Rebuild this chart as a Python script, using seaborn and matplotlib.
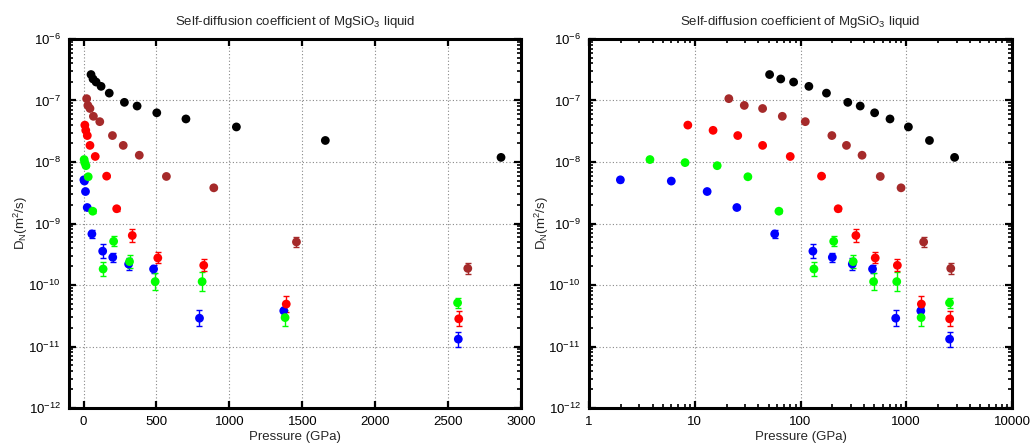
import numpy as np
import pandas as pd
import matplotlib
matplotlib.use("Agg")
import matplotlib.pyplot as plt
import matplotlib.ticker as mticker
import seaborn as sns

# ---- data ----
p_black = [51, 65, 86, 120, 176, 280, 367, 502, 702, 1048, 1658, 2863]
logd_black = [-6.578, -6.65, -6.70, -6.77, -6.88, -7.03, -7.09, -7.20, -7.30, -7.43, -7.65, -7.925]
err_black = [0.01] * 12

p_brown = [21, 29.4, 43.8, 67.3, 111, 198, 272, 382, 568, 893, 1460, 2635]
logd_brown = [-6.97, -7.08, -7.13, -7.257, -7.344, -7.57, -7.73, -7.89, -8.235, -8.42, -9.30, -9.73]
err_brown = [0.01, 0.01, 0.01, 0.01, 0.01, 0.01, 0.01, 0.01, 0.01, 0.015, 0.08, 0.09]

p_red = [8.6, 14.9, 25.5, 43.8, 80, 158, 227, 334, 509, 824, 1390, 2573]
logd_red = [-7.40, -7.485, -7.57, -7.73, -7.91, -8.23, -8.76, -9.195, -9.56, -9.68, -10.31, -10.55]
err_red = [0.01, 0.01, 0.01, 0.01, 0.01, 0.015, 0.03, 0.10, 0.09, 0.10, 0.13, 0.12]

p_green = [3.77, 8.1, 16.3, 31.8, 62.5, 134, 206, 315, 491, 813, 1382, 2565]
logd_green = [-7.96, -8.01, -8.06, -8.24, -8.80, -9.74, -9.29, -9.62, -9.945, -9.945, -10.53, -10.29]
err_green = [0.015, 0.015, 0.015, 0.015, 0.03, 0.12, 0.08, 0.10, 0.14, 0.15, 0.13, 0.08]

p_blue = [1.98, 6.0, 13.1, 25, 57, 131, 200, 309, 480, 795, 1373, 2570]
logd_blue = [-8.29, -8.31, -8.48, -8.74, -9.17, -9.45, -9.55, -9.66, -9.74, -10.54, -10.42, -10.88]
err_blue = [0.03, 0.02, 0.03, 0.03, 0.07, 0.11, 0.07, 0.10, 0.07, 0.13, 0.06, 0.12]

x_ticks_linear = [0, 500, 1000, 1500, 2000, 2500, 3000]
x_ticks_log = [1, 10, 100, 1000, 10000]
y_ticks = [1e-12, 1e-11, 1e-10, 1e-9, 1e-8, 1e-7, 1e-6]

series = [
    ("blue", p_blue, logd_blue, err_blue, "#0000ff"),
    ("green", p_green, logd_green, err_green, "#00ff00"),
    ("red", p_red, logd_red, err_red, "#ff0000"),
    ("brown", p_brown, logd_brown, err_brown, "#a52a2a"),
    ("black", p_black, logd_black, err_black, "#000000"),
]

title = "Self-diffusion coefficient of MgSiO$_3$ liquid"
xlabel = "Pressure (GPa)"
ylabel = "D$_\\mathregular{N}$(m$^2$/s)"

frames = []
for name, p, ld, e, c in series:
    ld = np.array(ld)
    e = np.array(e)
    d = 10.0 ** ld
    frames.append(pd.DataFrame({"P": p, "D": d,
                                "lo": d - 10.0 ** (ld - e),
                                "hi": 10.0 ** (ld + e) - d,
                                "series": name}))
df = pd.concat(frames, ignore_index=True)

sns.set_theme(style="white")
plt.rcParams["font.family"] = ["Liberation Sans", "DejaVu Sans"]
plt.rcParams["mathtext.fontset"] = "custom"
plt.rcParams["mathtext.rm"] = "Liberation Sans"
plt.rcParams["mathtext.it"] = "Liberation Sans"

fig = plt.figure(figsize=(10.33, 4.45), dpi=100)
axL = fig.add_axes([69 / 1033, 37 / 445, 452 / 1033, 369 / 445])
axR = fig.add_axes([589 / 1033, 37 / 445, 423 / 1033, 369 / 445])

for ax, logx, ylab_x in [(axL, False, (21 - 69) / 452), (axR, True, (542 - 589) / 423)]:
    for name, _, _, _, c in series:
        sub = df[df["series"] == name]
        ax.errorbar(sub["P"], sub["D"], yerr=[sub["lo"], sub["hi"]], fmt="none",
                    ecolor=c, elinewidth=1.0, capsize=2.3, capthick=1.0, zorder=2)
        sns.scatterplot(data=sub, x="P", y="D", color=c, s=40, edgecolor="none",
                        linewidth=0, ax=ax, legend=False, zorder=3)
    ax.set_yscale("log")
    ax.set_ylim(1e-12, 1e-6)
    if logx:
        ax.set_xscale("log")
        ax.set_xlim(1, 10000)
        ax.set_xticks(x_ticks_log)
        ax.xaxis.set_major_formatter(mticker.FuncFormatter(lambda v, pos: f"{int(round(v))}"))
        ax.xaxis.set_minor_locator(mticker.LogLocator(base=10, subs=np.arange(2, 10)))
        ax.xaxis.set_minor_formatter(mticker.NullFormatter())
    else:
        ax.set_xlim(-100, 3000)
        ax.set_xticks(x_ticks_linear)
    ax.set_yticks(y_ticks)
    ax.yaxis.set_major_formatter(mticker.LogFormatterSciNotation())
    ax.yaxis.set_minor_locator(mticker.LogLocator(base=10, subs=np.arange(2, 10), numticks=20))
    ax.yaxis.set_minor_formatter(mticker.NullFormatter())
    ax.set_ylim(1e-12, 1e-6)
    ax.grid(True, which="major", linestyle=(0, (1, 2)), color="#888888", linewidth=0.8)
    ax.set_axisbelow(True)
    for s in ax.spines.values():
        s.set_linewidth(2.2)
        s.set_color("black")
        s.set_visible(True)
    ax.tick_params(which="both", direction="in", top=True, right=True,
                   bottom=True, left=True, colors="black", labelsize=9.5, pad=6)
    ax.tick_params(which="major", length=5, width=1.6)
    ax.tick_params(which="minor", length=3, width=1.2)
    ax.set_title(title, fontsize=9.5, pad=10)
    ax.set_xlabel(xlabel, fontsize=9.5, labelpad=2)
    ax.set_ylabel(ylabel, fontsize=9.5, va="center", ha="center")
    ax.yaxis.set_label_coords(ylab_x, 0.5)

fig.savefig("out.png", dpi=100)
